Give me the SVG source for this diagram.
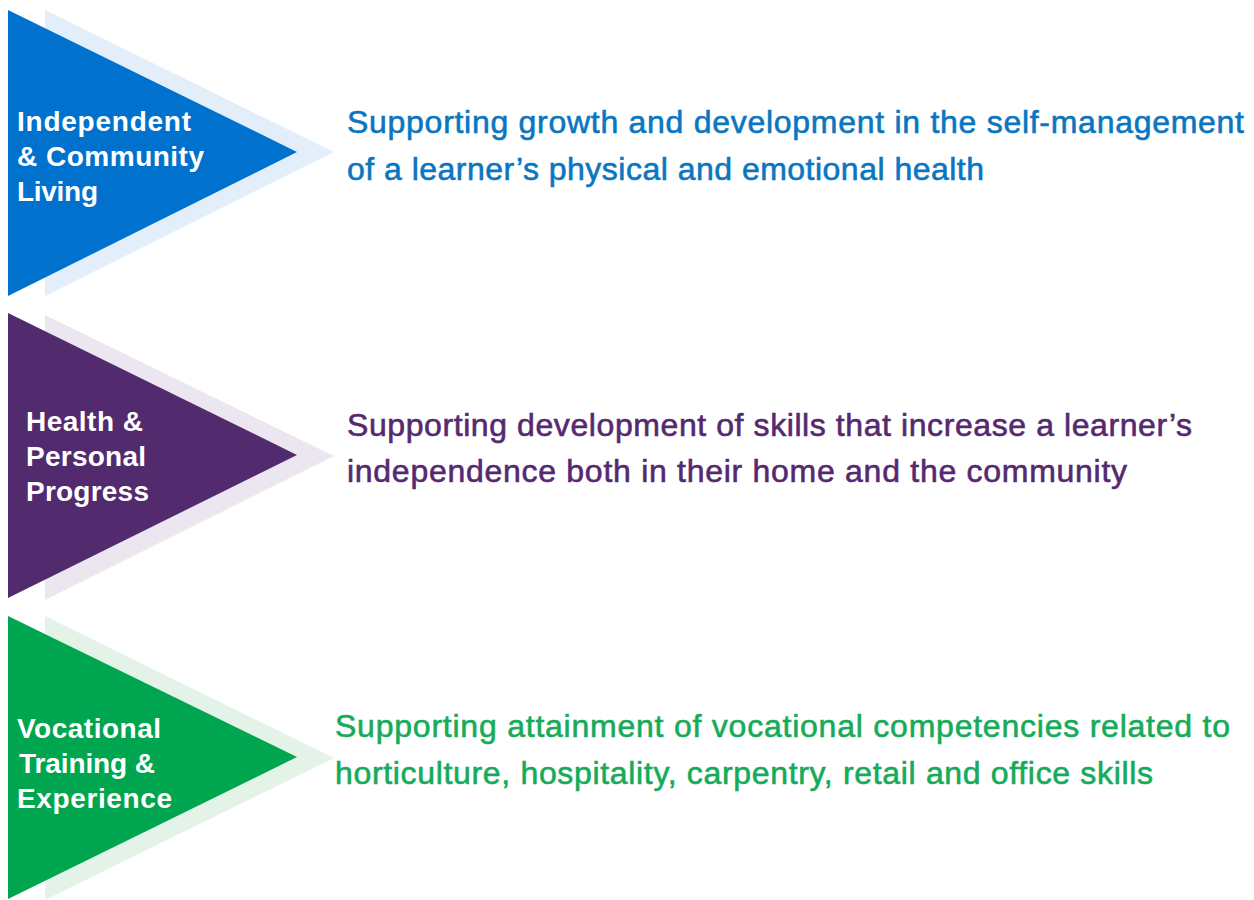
<svg xmlns="http://www.w3.org/2000/svg" width="1254" height="900" viewBox="0 0 1254 900">
  <style>
    .lbl { font-family: "Liberation Sans", Arial, sans-serif; font-weight: bold; font-size: 28px; fill: #ffffff; }
    .desc { font-family: "Liberation Sans", Arial, sans-serif; font-size: 32px; stroke-width: 0.6px; }
    .blue-dark { fill: #0072CE; }
    .blue-light { fill: #E2EEFA; }
    .purple-dark { fill: #522A6E; }
    .purple-light { fill: #ECE6F0; }
    .green-dark { fill: #00A64F; }
    .green-light { fill: #E3F3E8; }
    .blue-text { fill: #0A76C1; stroke: #0A76C1; }
    .purple-text { fill: #55296F; stroke: #55296F; }
    .green-text { fill: #16AB5A; stroke: #16AB5A; }
  </style>
  <rect width="1254" height="900" fill="#ffffff"/>

  <g id="node-independent">
    <polygon class="blue-light" points="45,10 334,152 45,296"/>
    <polygon class="blue-dark" points="8,10 297,152 8,296"/>
    <text class="lbl" x="17" y="131" textLength="174" lengthAdjust="spacing">Independent</text>
    <text class="lbl" x="17" y="166" textLength="187" lengthAdjust="spacing">&amp; Community</text>
    <text class="lbl" x="17" y="201" textLength="81" lengthAdjust="spacing">Living</text>
  </g>

  <g id="node-health">
    <polygon class="purple-light" points="45,315 334,456 45,600"/>
    <polygon class="purple-dark" points="8,313 297,455 8,598"/>
    <text class="lbl" x="26" y="431" textLength="117" lengthAdjust="spacing">Health &amp;</text>
    <text class="lbl" x="26" y="466" textLength="120" lengthAdjust="spacing">Personal</text>
    <text class="lbl" x="26" y="501" textLength="123" lengthAdjust="spacing">Progress</text>
  </g>

  <g id="node-vocational">
    <polygon class="green-light" points="45,616 334,758 45,900"/>
    <polygon class="green-dark" points="8,616 297,757 8,899"/>
    <text class="lbl" x="17" y="738" textLength="144" lengthAdjust="spacing">Vocational</text>
    <text class="lbl" x="19" y="773" textLength="136" lengthAdjust="spacing">Training &amp;</text>
    <text class="lbl" x="17" y="808" textLength="155" lengthAdjust="spacing">Experience</text>
  </g>

  <g id="desc-independent">
    <text class="desc blue-text" x="347" y="133" textLength="897" lengthAdjust="spacing">Supporting growth and development in the self-management</text>
    <text class="desc blue-text" x="347" y="180" textLength="637" lengthAdjust="spacing">of a learner’s physical and emotional health</text>
  </g>

  <g id="desc-health">
    <text class="desc purple-text" x="347" y="436" textLength="845" lengthAdjust="spacing">Supporting development of skills that increase a learner’s</text>
    <text class="desc purple-text" x="347" y="482" textLength="780" lengthAdjust="spacing">independence both in their home and the community</text>
  </g>

  <g id="desc-vocational">
    <text class="desc green-text" x="335" y="737" textLength="895" lengthAdjust="spacing">Supporting attainment of vocational competencies related to</text>
    <text class="desc green-text" x="335" y="784" textLength="818" lengthAdjust="spacing">horticulture, hospitality, carpentry, retail and office skills</text>
  </g>

  <g id="connectors"></g>
</svg>
